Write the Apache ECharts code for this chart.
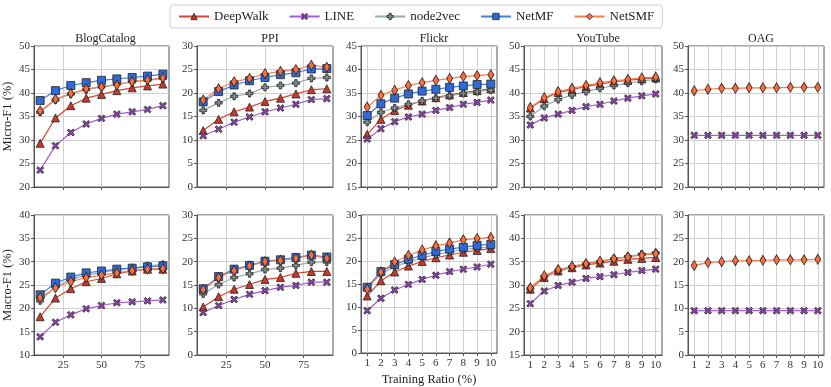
<!DOCTYPE html>
<html lang="en">
<head>
<meta charset="UTF-8">
<title>Micro/Macro-F1 vs training ratio</title>
<style>
  html, body { margin: 0; padding: 0; background: #fff; }
  #main { width: 831px; height: 387px; }
</style>
</head>
<body>
<div id="main"></div>
<script src="https://cdn.jsdelivr.net/npm/echarts@6/dist/echarts.min.js"></script>
<script>
// ---- data ----
var methods = ['DeepWalk', 'LINE', 'node2vec', 'NetMF', 'NetSMF'];
var datasets = ['BlogCatalog', 'PPI', 'Flickr', 'YouTube', 'OAG'];
var ratioLarge = [10, 20, 30, 40, 50, 60, 70, 80, 90];
var ratioSmall = [1, 2, 3, 4, 5, 6, 7, 8, 9, 10];
var ticksLarge = [25, 50, 75];

// each panel: one row per method (same order as methods), null = not reported
var blogMicro = [
  [29.3, 34.7, 37.3, 38.9, 39.7, 40.5, 41.1, 41.5, 41.9],
  [23.6, 28.8, 31.6, 33.4, 34.6, 35.5, 36.0, 36.5, 37.3],
  [35.9, 38.5, 39.8, 40.7, 41.3, 41.9, 42.4, 42.7, 43.1],
  [38.4, 40.5, 41.6, 42.2, 42.7, 43.0, 43.3, 43.6, 44.0],
  [36.2, 38.7, 39.9, 40.9, 41.3, 41.7, 42.4, 42.8, 43.2]
];
var ppiMicro = [
  [12.0, 14.4, 16.0, 17.0, 18.2, 18.9, 19.8, 20.7, 20.9],
  [10.9, 12.3, 13.8, 14.9, 16.0, 16.8, 17.6, 18.6, 18.8],
  [16.3, 17.9, 19.3, 19.9, 21.2, 21.6, 22.1, 23.1, 23.3],
  [18.1, 20.3, 21.7, 22.6, 23.3, 23.9, 24.3, 25.1, 25.2],
  [18.5, 20.9, 22.4, 23.1, 24.1, 24.6, 25.0, 25.9, 25.5]
];
var flickrMicro = [
  [26.2, 29.4, 31.3, 32.4, 33.3, 34.0, 34.6, 35.1, 35.5, 35.9],
  [25.2, 27.4, 28.9, 29.9, 30.5, 31.3, 31.9, 32.6, 33.0, 33.5],
  [28.8, 30.9, 31.8, 32.6, 33.3, 33.9, 34.4, 34.9, 35.3, 35.6],
  [30.2, 32.7, 33.9, 34.8, 35.4, 35.8, 36.2, 36.5, 36.8, 36.9],
  [32.0, 34.5, 35.6, 36.6, 37.2, 37.7, 38.1, 38.5, 38.7, 38.9]
];
var youtubeMicro = [
  [36.8, 38.8, 40.1, 40.7, 41.4, 41.9, 42.4, 42.7, 43.0, 43.2],
  [33.2, 34.7, 35.5, 36.3, 37.1, 37.6, 38.3, 38.9, 39.4, 39.8],
  [35.0, 37.2, 38.6, 39.6, 40.3, 41.0, 41.6, 42.1, 42.5, 42.9],
  null,
  [36.9, 39.0, 40.3, 41.0, 41.6, 42.2, 42.6, 42.9, 43.2, 43.4]
];
var oagMicro = [
  null,
  [31.0, 31.0, 31.0, 31.0, 31.0, 31.0, 31.0, 31.0, 31.0, 31.0],
  null,
  null,
  [40.5, 40.8, 41.0, 41.0, 41.1, 41.1, 41.1, 41.2, 41.2, 41.2]
];

var blogMacro = [
  [18.2, 22.2, 24.2, 25.7, 26.4, 27.4, 28.0, 28.4, 28.4],
  [13.9, 17.0, 18.6, 19.9, 20.6, 21.2, 21.4, 21.6, 21.8],
  [21.6, 24.6, 26.2, 27.1, 27.7, 28.2, 28.7, 29.1, 29.4],
  [22.9, 25.4, 26.7, 27.6, 28.0, 28.4, 28.6, 28.9, 29.1],
  [22.3, 24.4, 25.7, 26.6, 27.1, 27.6, 28.1, 28.4, 28.5]
];
var ppiMacro = [
  [10.3, 12.5, 14.1, 15.1, 16.2, 16.6, 17.5, 17.9, 17.9],
  [9.1, 10.6, 11.9, 13.0, 13.8, 14.5, 14.9, 15.6, 15.6],
  [13.1, 15.1, 16.6, 17.4, 18.3, 18.6, 19.2, 19.9, 19.9],
  [14.2, 16.8, 18.4, 19.2, 20.1, 20.4, 20.9, 21.4, 21.0],
  [14.0, 16.6, 18.1, 19.1, 20.0, 20.3, 20.7, 21.4, 20.7]
];
var flickrMacro = [
  [12.4, 15.7, 17.6, 18.9, 19.9, 20.7, 21.3, 21.9, 22.3, 22.7],
  [9.2, 11.9, 13.7, 14.9, 16.0, 16.9, 17.7, 18.2, 18.7, 19.3],
  [14.1, 17.2, 18.8, 19.8, 20.7, 21.4, 22.0, 22.5, 22.8, 23.1],
  [14.3, 17.7, 19.2, 20.4, 21.2, 22.1, 22.6, 23.0, 23.4, 23.6],
  [13.9, 17.6, 19.8, 21.2, 22.4, 23.3, 23.9, 24.6, 24.9, 25.1]
];
var youtubeMacro = [
  [29.1, 31.6, 33.0, 33.7, 34.3, 34.7, 35.1, 35.5, 35.7, 35.9],
  [26.0, 28.7, 29.9, 30.6, 31.4, 31.8, 32.2, 32.7, 33.1, 33.4],
  [29.2, 31.8, 33.1, 33.9, 34.5, 35.0, 35.6, 36.1, 36.6, 36.9],
  null,
  [29.4, 32.0, 33.3, 34.0, 34.6, 35.1, 35.6, 36.0, 36.4, 36.7]
];
var oagMacro = [
  null,
  [9.5, 9.5, 9.5, 9.5, 9.5, 9.5, 9.5, 9.5, 9.5, 9.5],
  null,
  null,
  [19.2, 19.8, 20.0, 20.2, 20.2, 20.3, 20.4, 20.4, 20.4, 20.5]
];

var microPanels = [blogMicro, ppiMicro, flickrMicro, youtubeMicro, oagMicro];
var macroPanels = [blogMacro, ppiMacro, flickrMacro, youtubeMacro, oagMacro];
var microRange = [[20, 50], [0, 30], [15, 45], [20, 50], [20, 50]];
var macroRange = [[10, 40], [0, 30], [0, 30], [15, 45], [0, 30]];

// ---- styling ----
var FONT = 'Liberation Serif';
var X_PATH = 'path://M2,0L5,3L8,0L10,2L7,5L10,8L8,10L5,7L2,10L0,8L3,5L0,2Z';
var PLUS_PATH = 'path://M3.3,0H6.7V3.3H10V6.7H6.7V10H3.3V6.7H0V3.3H3.3Z';
var look = {
  DeepWalk: { line: '#d2452f', fill: '#c8392a', symbol: 'triangle', size: 8 },
  LINE:     { line: '#a35bd1', fill: '#8e44ad', symbol: X_PATH, size: 7 },
  node2vec: { line: '#9aabab', fill: '#7f8c8d', symbol: PLUS_PATH, size: 7 },
  NetMF:    { line: '#3f7fe0', fill: '#2f6ad6', symbol: 'rect', size: 8 },
  NetSMF:   { line: '#ff7b4d', fill: '#ff6c3a', symbol: 'diamond', size: [6, 10] }
};

var lefts = [32, 197, 361, 524, 688];
var widths = [137, 136, 136, 138, 136];
var rows = [{ top: 46, height: 141 }, { top: 215, height: 140 }];

var grids = [], xAxes = [], yAxes = [], series = [], titles = [];

function addPanel(row, col, panel, range) {
  var idx = grids.length;
  grids.push({
    left: lefts[col], width: widths[col], top: rows[row].top, height: rows[row].height,
    show: true, borderColor: '#555', borderWidth: 1, backgroundColor: '#fff'
  });
  var large = col < 2;
  xAxes.push({
    type: 'value', gridIndex: idx,
    min: large ? 6 : 0.55, max: large ? 94 : 10.45,
    axisLine: { show: true, lineStyle: { color: '#555' } },
    axisTick: { show: true, length: 3, lineStyle: { color: '#555' }, customValues: large ? ticksLarge : ratioSmall },
    axisLabel: { show: row === 1, customValues: large ? ticksLarge : ratioSmall, fontFamily: FONT, fontSize: 11, color: '#333', margin: 5 },
    splitLine: { show: true, lineStyle: { color: '#d0d0d0', width: 1 } },
    name: (row === 1 && col === 2) ? 'Training Ratio (%)' : '',
    nameLocation: 'middle', nameGap: 20,
    nameTextStyle: { fontFamily: FONT, fontSize: 12.5, color: '#222' }
  });
  yAxes.push({
    type: 'value', gridIndex: idx, min: range[0], max: range[1], interval: 5,
    axisLine: { show: true, lineStyle: { color: '#555' } },
    axisTick: { show: true, length: 3, lineStyle: { color: '#555' } },
    axisLabel: { fontFamily: FONT, fontSize: 11, color: '#333', margin: 4 },
    splitLine: { show: true, lineStyle: { color: '#d0d0d0', width: 1 } },
    name: col === 0 ? (row === 0 ? 'Micro-F1 (%)' : 'Macro-F1 (%)') : '',
    nameLocation: 'middle', nameGap: 20,
    nameTextStyle: { fontFamily: FONT, fontSize: 12.5, color: '#222' }
  });
  var xs = large ? ratioLarge : ratioSmall;
  methods.forEach(function (m, k) {
    var vals = panel[k];
    if (!vals) return;
    var s = look[m];
    series.push({
      name: m, type: 'line', xAxisIndex: idx, yAxisIndex: idx,
      data: vals.map(function (v, i) { return [xs[i], v]; }),
      symbol: s.symbol, symbolSize: s.size, showAllSymbol: true,
      lineStyle: { color: s.line, width: 1.2 },
      itemStyle: { color: s.fill, borderColor: '#222', borderWidth: 0.8 },
      emphasis: { disabled: true },
      animation: false
    });
  });
}

for (var c = 0; c < 5; c++) {
  addPanel(0, c, microPanels[c], microRange[c]);
  addPanel(1, c, macroPanels[c], macroRange[c]);
  titles.push({
    text: datasets[c], left: lefts[c] + widths[c] / 2, top: 28, textAlign: 'center',
    textStyle: { fontFamily: FONT, fontSize: 12, fontWeight: 'normal', color: '#222' }
  });
}

var chart = echarts.init(document.getElementById('main'), null, { renderer: 'canvas' });
chart.setOption({
  animation: false,
  backgroundColor: '#fff',
  title: titles,
  legend: {
    data: methods.map(function (m) {
      return { name: m, itemStyle: { color: look[m].fill, borderColor: '#222', borderWidth: 0.8 } };
    }),
    left: 170, top: 5, itemWidth: 30, itemHeight: 8, itemGap: 20,
    padding: [5, 8], borderColor: '#cfcfcf', borderWidth: 1, borderRadius: 3,
    textStyle: { fontFamily: FONT, fontSize: 13, color: '#222' }
  },
  grid: grids,
  xAxis: xAxes,
  yAxis: yAxes,
  series: series
});
</script>
</body>
</html>
